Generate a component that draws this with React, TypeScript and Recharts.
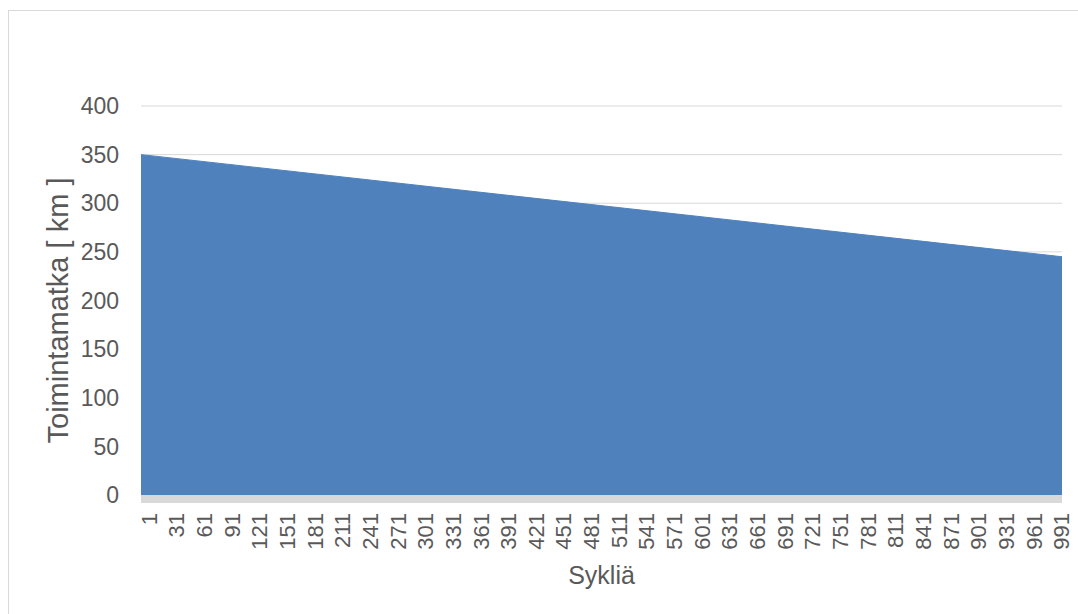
import { Area, AreaChart, CartesianGrid, XAxis, YAxis } from "recharts";

// Syklien lukumäärä (x) ja toimintamatka km (y), luettu kuvasta
const cycles = [1, 1000];
const rangeKm = [350, 245];

const xTicks = [
  1, 31, 61, 91, 121, 151, 181, 211, 241, 271, 301, 331, 361, 391, 421, 451, 481,
  511, 541, 571, 601, 631, 661, 691, 721, 751, 781, 811, 841, 871, 901, 931, 961, 991,
];
const yTicks = [0, 50, 100, 150, 200, 250, 300, 350, 400];

const data = cycles.map((c, i) => ({ cycle: c, km: rangeKm[i] }));

const font = "'Liberation Sans', Arial, sans-serif";
const textColor = "#595959";

export default function App() {
  return (
    <div style={{ position: "relative", width: 1078, height: 614, overflow: "hidden", fontFamily: font }}>
      <style>{`body{margin:0;overflow:hidden}`}</style>
      {/* kaavion kehys */}
      <div
        style={{
          position: "absolute",
          left: 8,
          top: 10,
          width: 1090,
          height: 620,
          border: "1px solid #d9d9d9",
        }}
      />
      <div style={{ position: "absolute", left: 0, top: 0 }}>
        <AreaChart width={1078} height={614} data={data} margin={{ top: 106, right: 16, bottom: 0, left: 0 }}>
          <CartesianGrid vertical={false} stroke="#d9d9d9" strokeWidth={1} />
          <XAxis
            dataKey="cycle"
            type="number"
            domain={[1, 1000]}
            ticks={xTicks}
            interval={0}
            height={119}
            tickLine={false}
            tickSize={0}
            tickMargin={18}
            axisLine={{ stroke: "#d9d9d9", strokeWidth: 8, transform: "translate(0,4)" }}
            tick={{ angle: -90, textAnchor: "end", verticalAnchor: "middle", fill: textColor, fontSize: 22, fontFamily: font }}
            label={{ value: "Sykliä", position: "insideBottom", offset: 30, fill: textColor, fontSize: 25, fontFamily: font }}
          />
          <YAxis
            domain={[0, 400]}
            ticks={yTicks}
            width={141}
            axisLine={false}
            tickLine={false}
            tickSize={0}
            tickMargin={22}
            tick={{ fill: textColor, fontSize: 23, fontFamily: font }}
            label={({ viewBox }: any) => (
              <text
                x={viewBox.x + 68}
                y={viewBox.y + viewBox.height / 2 + 10}
                transform={`rotate(-90, ${viewBox.x + 68}, ${viewBox.y + viewBox.height / 2 + 10})`}
                textAnchor="middle"
                fill={textColor}
                fontSize={29}
                fontFamily={font}
              >
                Toimintamatka [ km ]
              </text>
            )}
          />
          <Area
            type="linear"
            dataKey="km"
            stroke="#4f81bd"
            strokeWidth={1}
            fill="#4f81bd"
            fillOpacity={1}
            isAnimationActive={false}
            dot={false}
            activeDot={false}
          />
        </AreaChart>
      </div>
    </div>
  );
}
